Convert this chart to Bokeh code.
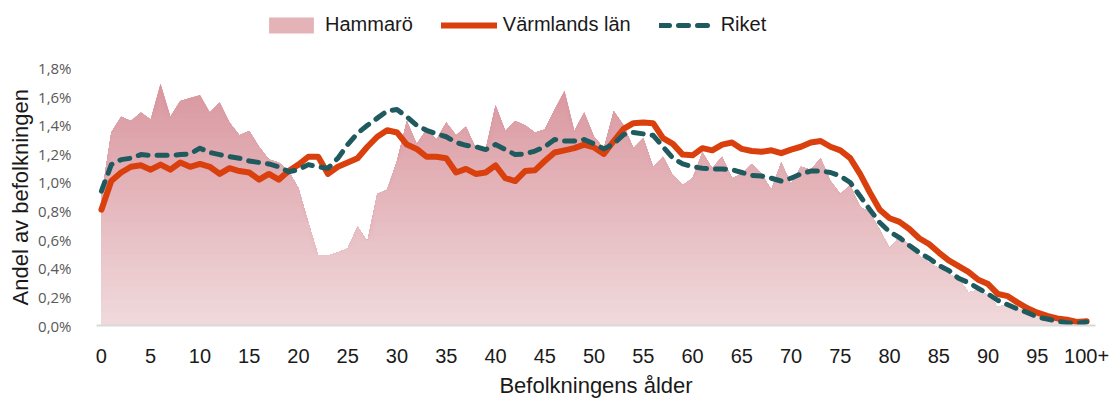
import numpy as np
from bokeh.plotting import figure
from bokeh.models import Range1d, FixedTicker, Legend, LegendItem, Title
from bokeh.embed import file_html
from bokeh.resources import INLINE

# ---------------- data ----------------
ages = list(range(101))

hammaro = [0.90, 1.35, 1.46, 1.43, 1.49, 1.44, 1.69, 1.46, 1.57, 1.59,
           1.61, 1.49, 1.56, 1.42, 1.33, 1.36, 1.25, 1.16, 1.14, 1.08,
           0.96, 0.72, 0.49, 0.49, 0.51, 0.54, 0.69, 0.59, 0.92, 0.95,
           1.15, 1.43, 1.27, 1.37, 1.30, 1.42, 1.33, 1.39, 1.24, 1.23,
           1.54, 1.36, 1.43, 1.40, 1.35, 1.37, 1.51, 1.64, 1.36, 1.49,
           1.32, 1.24, 1.50, 1.40, 1.24, 1.31, 1.11, 1.18, 1.05, 0.98,
           1.03, 1.21, 1.10, 1.18, 1.03, 1.06, 1.13, 1.06, 0.95, 1.14,
           0.99, 1.11, 1.09, 1.17, 1.01, 0.92, 0.98, 0.83, 0.79, 0.67,
           0.54, 0.62, 0.56, 0.49, 0.44, 0.40, 0.36, 0.33, 0.23, 0.25,
           0.21, 0.13, 0.15, 0.12, 0.09, 0.07, 0.05, 0.04, 0.03, 0.02, 0.02]

varmland = [0.81, 1.01, 1.07, 1.11, 1.12, 1.09, 1.125, 1.09, 1.14, 1.11,
            1.13, 1.11, 1.06, 1.10, 1.08, 1.07, 1.02, 1.06, 1.02, 1.08,
            1.125, 1.18, 1.18, 1.06, 1.11, 1.14, 1.17, 1.25, 1.32, 1.365,
            1.35, 1.265, 1.235, 1.18, 1.18, 1.17, 1.07, 1.095, 1.06, 1.07,
            1.12, 1.03, 1.01, 1.08, 1.085, 1.15, 1.21, 1.225, 1.24, 1.265,
            1.245, 1.20, 1.29, 1.375, 1.415, 1.42, 1.415, 1.31, 1.27, 1.195,
            1.19, 1.24, 1.225, 1.265, 1.28, 1.235, 1.22, 1.215, 1.225, 1.205,
            1.23, 1.25, 1.28, 1.29, 1.25, 1.225, 1.17, 1.06, 0.93, 0.81,
            0.75, 0.725, 0.675, 0.61, 0.57, 0.51, 0.455, 0.415, 0.375, 0.32,
            0.29, 0.22, 0.205, 0.16, 0.12, 0.09, 0.067, 0.05, 0.04, 0.025, 0.03]

riket = [0.94, 1.125, 1.16, 1.17, 1.195, 1.19, 1.19, 1.19, 1.195, 1.20,
         1.24, 1.21, 1.195, 1.18, 1.17, 1.15, 1.14, 1.13, 1.11, 1.075,
         1.09, 1.125, 1.11, 1.10, 1.17, 1.265, 1.345, 1.40, 1.45, 1.50,
         1.51, 1.46, 1.40, 1.365, 1.34, 1.32, 1.28, 1.26, 1.25, 1.23,
         1.265, 1.23, 1.195, 1.20, 1.22, 1.25, 1.30, 1.29, 1.29, 1.30,
         1.27, 1.235, 1.27, 1.335, 1.35, 1.34, 1.33, 1.25, 1.17, 1.13,
         1.11, 1.10, 1.095, 1.095, 1.09, 1.07, 1.05, 1.045, 1.03, 1.01,
         1.03, 1.06, 1.08, 1.08, 1.07, 1.045, 1.00, 0.905, 0.81, 0.72,
         0.655, 0.615, 0.56, 0.51, 0.47, 0.42, 0.385, 0.33, 0.30, 0.26,
         0.22, 0.175, 0.145, 0.115, 0.09, 0.06, 0.045, 0.03, 0.02, 0.015, 0.025]

x_ticks = [0, 5, 10, 15, 20, 25, 30, 35, 40, 45, 50, 55, 60, 65, 70, 75, 80, 85, 90, 95, 100]
x_tick_labels = ["0", "5", "10", "15", "20", "25", "30", "35", "40", "45", "50",
                 "55", "60", "65", "70", "75", "80", "85", "90", "95", "100+"]
y_ticks = [0.0, 0.2, 0.4, 0.6, 0.8, 1.0, 1.2, 1.4, 1.6, 1.8]
y_tick_labels = ["0,0%", "0,2%", "0,4%", "0,6%", "0,8%", "1,0%", "1,2%", "1,4%", "1,6%", "1,8%"]

# ---------------- figure ----------------
# frame spans page y 2..327; the value 1.8 sits at y=68, leaving room for the legend inside
y_top = 1.8 * 325 / 259
p = figure(width=1116, height=400, output_backend="svg", toolbar_location=None,
           x_range=Range1d(-0.5, 100.9), y_range=Range1d(0, y_top),
           min_border_left=96, min_border_right=21, min_border_top=2, min_border_bottom=73)
p.outline_line_color = None
p.grid.visible = False
p.background_fill_color = "white"

# gradient-filled area (vertical bands, drawn top-down, each from 0)
h = np.array(hammaro)
top_rgb = np.array([216, 146, 155])
bot_rgb = np.array([240, 218, 220])
N = 40
ymax = 1.8
for k in range(N - 1, -1, -1):
    hi = (k + 1) * ymax / N
    t = (k + 0.5) / N
    c = bot_rgb + (top_rgb - bot_rgb) * t
    col = "#%02x%02x%02x" % tuple(int(round(v)) for v in c)
    p.varea(x=ages, y1=np.zeros(len(ages)), y2=np.minimum(h, hi), fill_color=col, fill_alpha=1.0)

# dummy renderer for legend swatch
r_h = p.varea(x=[0, 0.001], y1=[0, 0], y2=[0, 0], fill_color="#e4b3b8")

r_v = p.line(ages, varmland, line_color="#d9400e", line_width=6,
             line_join="round", line_cap="round")
r_r = p.line(ages, riket, line_color="#1f5a5f", line_width=5,
             line_dash="10 9", line_join="round", line_cap="round")

legend = Legend(items=[LegendItem(label="Hammarö", renderers=[r_h]),
                       LegendItem(label="Värmlands län", renderers=[r_v]),
                       LegendItem(label="Riket", renderers=[r_r])],
                orientation="horizontal", location=(167, 289),
                border_line_color=None, background_fill_alpha=0,
                label_text_font="Liberation Sans", label_text_font_size="20px",
                label_text_color="#1a1a1a",
                glyph_width=56, glyph_height=20, spacing=28, label_standoff=6,
                padding=4, margin=0)
p.add_layout(legend, "center")

# x axis
p.xaxis.ticker = FixedTicker(ticks=x_ticks)
p.xaxis.major_label_overrides = dict(zip(x_ticks, x_tick_labels))
p.xaxis.axis_line_color = "#d9d9d9"
p.xaxis.axis_line_width = 2
p.xaxis.major_tick_line_color = None
p.xaxis.minor_tick_line_color = None
p.xaxis.major_label_text_font = "Liberation Sans"
p.xaxis.major_label_text_font_size = "20px"
p.xaxis.major_label_text_color = "#1a1a1a"
p.xaxis.major_label_standoff = 17
p.xaxis.axis_label = "Befolkningens ålder"
p.xaxis.axis_label_text_font = "Liberation Sans"
p.xaxis.axis_label_text_font_size = "22px"
p.xaxis.axis_label_text_font_style = "normal"
p.xaxis.axis_label_text_color = "#1a1a1a"
p.xaxis.axis_label_standoff = 7

# y axis
p.yaxis.ticker = FixedTicker(ticks=y_ticks)
p.yaxis.major_label_overrides = dict(zip(y_ticks, y_tick_labels))
p.yaxis.axis_line_color = None
p.yaxis.major_tick_line_color = None
p.yaxis.minor_tick_line_color = None
p.yaxis.major_label_text_font = "Open Sans"
p.yaxis.major_label_text_font_size = "15px"
p.yaxis.major_label_text_color = "#595959"
p.yaxis.major_label_standoff = 19

# y axis title as a left-side title, aligned to the 0..1.8 part of the frame
ytitle = Title(text="Andel av befolkningen", align="left", offset=20,
               text_font="Liberation Sans", text_font_size="22px",
               text_font_style="normal", text_color="#1a1a1a",
               vertical_align="middle", standoff=4)
p.add_layout(ytitle, "left")

open("out.html", "w").write(file_html(p, INLINE))
